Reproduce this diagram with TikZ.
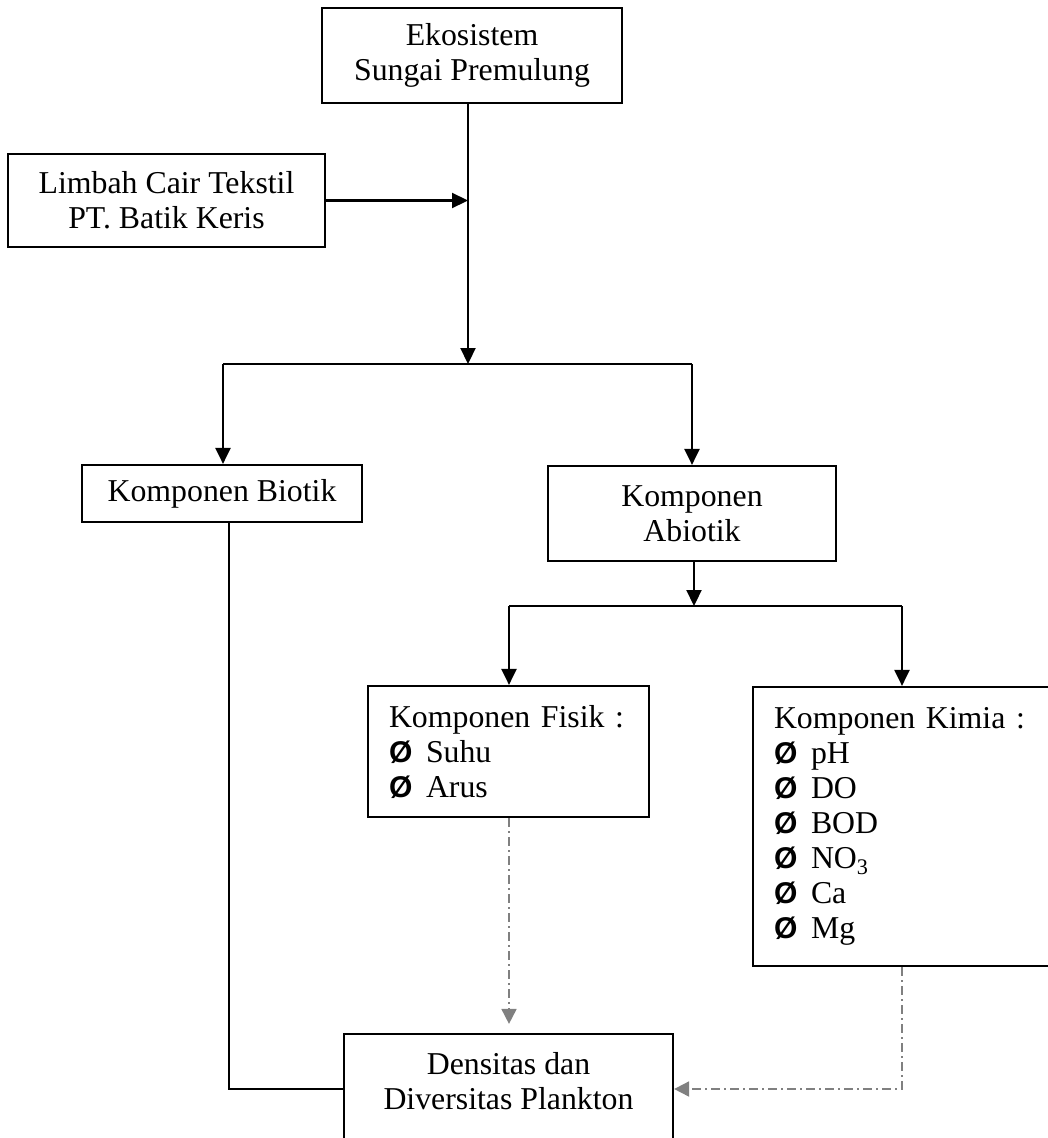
\documentclass[tikz,border=0pt]{standalone}
\usepackage{fontspec}
\setmainfont{Liberation Serif}
\newfontfamily\bltfont{Liberation Sans}
\usetikzlibrary{arrows.meta}
\newcommand\myfont{\fontsize{31.8}{35}\selectfont}
\newcommand\itm[1]{\makebox[37pt][l]{\bltfont\bfseries\fontsize{30}{35}\selectfont Ø}#1}
\definecolor{dgray}{HTML}{808080}
\begin{document}
\begin{tikzpicture}[x=1pt,y=-1pt,
  box/.style={draw, line width=2.2pt, inner sep=0pt, align=center, font=\myfont},
  lbox/.style={draw, line width=2.2pt, inner xsep=21pt, inner ysep=0pt, align=left, font=\myfont},
  arr/.style={line width=2.2pt, -{Triangle[length=16pt,width=15pt]}},
  ln/.style={line width=2.2pt},
  darr/.style={dgray, line width=1.8pt, dash pattern=on 9pt off 4pt on 2pt off 4pt, -{Triangle[length=15pt,width=15pt]}}]
\path[use as bounding box, clip] (0,0) rectangle (1048,1138);
\node[box, minimum width=300pt, minimum height=95pt] (eko) at (472,55.5) {Ekosistem\\Sungai Premulung};
\node[box, minimum width=317pt, minimum height=93pt] (limbah) at (166.5,200.5) {Limbah Cair Tekstil\\PT. Batik Keris};
\node[box, minimum width=280pt, minimum height=57pt] (biotik) at (222,493.5) {Komponen Biotik};
\node[box, minimum width=288pt, minimum height=95pt] (abiotik) at (692,513.5) {Komponen\\Abiotik};
\node[lbox, text width=239pt, minimum height=131pt] (fisik) at (508.5,751.5) {Komponen Fisik :\\\itm{Suhu}\\\itm{Arus}};
\node[lbox, text width=288pt, minimum height=279pt] (kimia) at (918,826.5) {Komponen Kimia :\\\itm{pH}\\\itm{DO}\\\itm{BOD}\\\itm{NO\textsubscript{3}}\\\itm{Ca}\\\itm{Mg}};
\node[box, minimum width=329pt, minimum height=140pt] (densitas) at (508.5,1104) {Densitas dan\\Diversitas Plankton\\\strut};
\coordinate (j1) at (468,364);
\coordinate (bl) at (223,364);
\coordinate (br) at (692,364);
\coordinate (j2) at (694,606);
\coordinate (fl) at (509,606);
\coordinate (kr) at (902,606);
\coordinate (bb) at (229,1089);
\coordinate (kd) at (902,1089);
\draw[arr] (eko.south -| j1) -- (j1);
\draw[arr] (limbah.east) -- (limbah.east -| j1);
\draw[ln] (bl) -- (br);
\draw[arr] (bl) -- (biotik.north -| bl);
\draw[arr] (br) -- (abiotik.north -| br);
\draw[arr] (abiotik.south -| j2) -- (j2);
\draw[ln] (fl) -- (kr);
\draw[arr] (fl) -- (fisik.north -| fl);
\draw[arr] (kr) -- (kimia.north -| kr);
\draw[ln] (biotik.south -| bb) -- (bb) -- (bb -| densitas.west);
\draw[darr, shorten >=9pt] (fisik.south -| fl) -- (densitas.north -| fl);
\draw[darr] (kimia.south -| kd) -- (kd) -- (densitas.east |- kd);
\end{tikzpicture}
\end{document}
